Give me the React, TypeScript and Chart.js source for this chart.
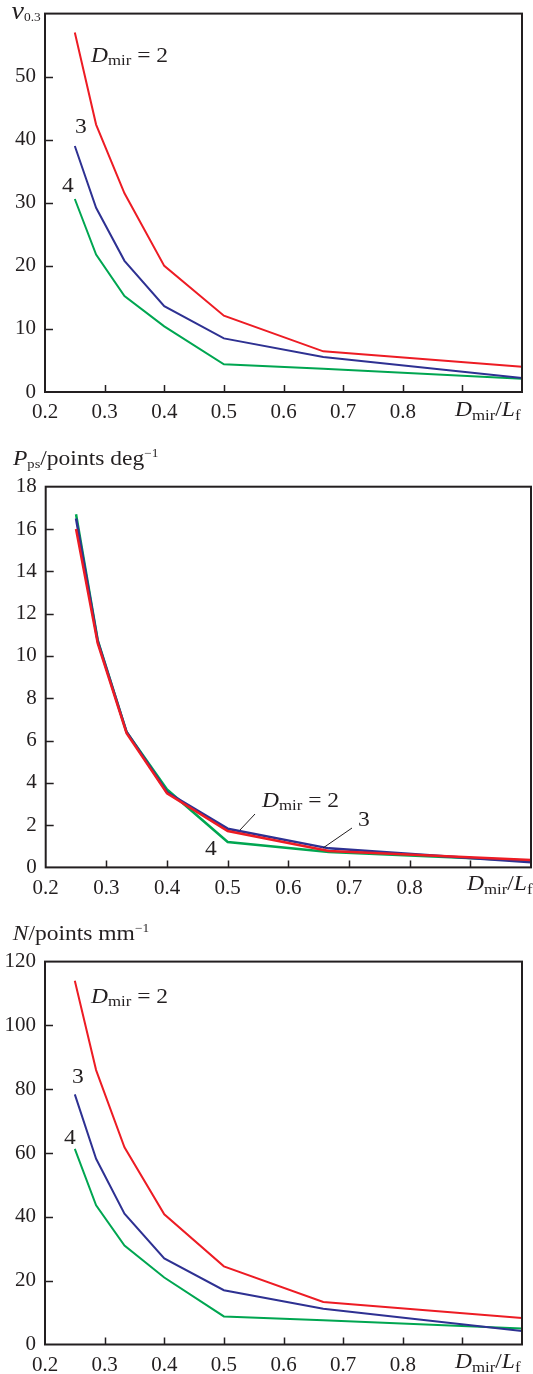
import React, { useEffect, useRef } from 'react';
import { Chart, registerables } from 'chart.js';

Chart.register(...registerables);

// Mirror-to-focal-length ratio D_mir / L_f
const ratioX = [0.25, 0.2857, 0.3333, 0.4, 0.5, 0.6667, 1.0];
const xTickValues = [0.2, 0.3, 0.4, 0.5, 0.6, 0.7, 0.8, 0.9, 1.0];
const xTickLabels = ['0.2', '0.3', '0.4', '0.5', '0.6', '0.7', '0.8', '', ''];

// v_0.3 for D_mir = 2, 3, 4
const vDmir2 = [57, 42.4, 31.5, 20, 12.1, 6.45, 4.0];
const vDmir3 = [39, 29.2, 20.8, 13.6, 8.5, 5.55, 2.2];
const vDmir4 = [30.6, 21.8, 15.2, 10.4, 4.4, 3.7, 2.1];
const vTickValues = [0, 10, 20, 30, 40, 50, 60];
const vTickLabels = ['0', '10', '20', '30', '40', '50', ''];

// P_ps (points per degree) for D_mir = 2, 3, 4
const pDmir2 = [16.0, 10.6, 6.35, 3.5, 1.72, 0.78, 0.35];
const pDmir3 = [16.5, 10.7, 6.4, 3.55, 1.83, 0.9, 0.24];
const pDmir4 = [16.7, 10.75, 6.4, 3.68, 1.2, 0.73, 0.32];
const pTickValues = [0, 2, 4, 6, 8, 10, 12, 14, 16, 18];
const pTickLabels = ['0', '2', '4', '6', '8', '10', '12', '14', '16', '18'];

// N (points per mm) for D_mir = 2, 3, 4
const nDmir2 = [114, 86, 61.8, 40.8, 24.5, 13.3, 8.3];
const nDmir3 = [78.4, 58.2, 41, 27, 17, 11.2, 4.2];
const nDmir4 = [61.3, 43.6, 31, 21, 8.8, 7.6, 5.0];
const nTickValues = [0, 20, 40, 60, 80, 100, 120];
const nTickLabels = ['0', '20', '40', '60', '80', '100', '120'];

const RED = '#ed1c24';
const BLUE = '#2e3192';
const GREEN = '#00a651';
const INK = '#231f20';
const FONT = '"Liberation Serif", "Times New Roman", serif';
const STRETCH = 1.12;

type Part = { t: string; size: number; italic?: boolean; dy?: number };
type RichText = { x: number; y: number; parts: Part[] };
type Leader = [number, number, number, number];

function drawRich(ctx: CanvasRenderingContext2D, item: RichText) {
  ctx.save();
  ctx.translate(item.x, item.y);
  ctx.scale(STRETCH, 1);
  ctx.fillStyle = INK;
  ctx.textAlign = 'left';
  ctx.textBaseline = 'alphabetic';
  let cx = 0;
  for (const p of item.parts) {
    ctx.font = `${p.italic ? 'italic ' : ''}${p.size}px ${FONT}`;
    ctx.fillText(p.t, cx, p.dy || 0);
    cx += ctx.measureText(p.t).width;
  }
  ctx.restore();
}

const dmirLabel = (x: number, y: number): RichText => ({
  x,
  y,
  parts: [
    { t: 'D', size: 21, italic: true },
    { t: 'mir', size: 15, dy: 3 },
    { t: ' = 2', size: 21 },
  ],
});

const axisTitle = (x: number, y: number): RichText => ({
  x,
  y,
  parts: [
    { t: 'D', size: 21, italic: true },
    { t: 'mir', size: 15, dy: 4 },
    { t: '/', size: 21 },
    { t: 'L', size: 21, italic: true },
    { t: 'f', size: 15, dy: 4 },
  ],
});

const plain = (x: number, y: number, t: string): RichText => ({ x, y, parts: [{ t, size: 21 }] });

type PanelProps = {
  top: number;
  height: number;
  area: { left: number; top: number; right: number; bottom: number };
  series: number[][];
  yMax: number;
  yTicks: number[];
  yLabels: string[];
  lineWidth: number;
  texts: RichText[];
  leaders: Leader[];
};

function Panel(props: PanelProps) {
  const ref = useRef<HTMLCanvasElement>(null);
  const width = 533;

  useEffect(() => {
    const canvas = ref.current;
    if (!canvas) return;
    const { area, height } = props;
    const colors = [RED, BLUE, GREEN];

    const framePlugin = {
      id: 'frameAndNotes',
      afterDraw(chart: Chart) {
        const ctx = chart.ctx;
        const ca = chart.chartArea;
        const xs = chart.scales.x;
        const ys = chart.scales.y;
        ctx.save();
        ctx.strokeStyle = INK;
        ctx.lineWidth = 2;
        ctx.strokeRect(ca.left, ca.top, ca.right - ca.left, ca.bottom - ca.top);
        ctx.lineWidth = 1.5;
        ctx.beginPath();
        for (const v of xTickValues.slice(1, -1)) {
          const px = Math.round(xs.getPixelForValue(v)) + 0.5;
          ctx.moveTo(px, ca.bottom);
          ctx.lineTo(px, ca.bottom - 7);
        }
        for (const v of props.yTicks.slice(1, -1)) {
          const py = Math.round(ys.getPixelForValue(v)) + 0.5;
          ctx.moveTo(ca.left, py);
          ctx.lineTo(ca.left + 8, py);
        }
        ctx.stroke();
        ctx.lineWidth = 1;
        ctx.beginPath();
        for (const [x1, y1, x2, y2] of props.leaders) {
          ctx.moveTo(x1, y1);
          ctx.lineTo(x2, y2);
        }
        ctx.stroke();
        ctx.restore();
        for (const t of props.texts) drawRich(ctx, t);
      },
    };

    const chart = new Chart(canvas, {
      type: 'line',
      data: {
        datasets: props.series.map((vals, i) => ({
          data: ratioX.map((x, j) => ({ x, y: vals[j] })),
          borderColor: colors[i],
          borderWidth: props.lineWidth,
          pointRadius: 0,
          tension: 0,
          fill: false,
        })),
      },
      options: {
        animation: false,
        responsive: false,
        devicePixelRatio: 1,
        events: [],
        layout: {
          padding: { left: 0, top: area.top, right: width - area.right, bottom: 0 },
        },
        plugins: { legend: { display: false }, tooltip: { enabled: false }, title: { display: false } },
        scales: {
          x: {
            type: 'linear',
            min: 0.2,
            max: 1.0,
            grid: { display: false },
            border: { display: false },
            afterBuildTicks: (s: any) => {
              s.ticks = xTickValues.map((value) => ({ value }));
            },
            afterFit: (s: any) => {
              s.height = height - area.bottom;
            },
            ticks: {
              autoSkip: false,
              maxRotation: 0,
              padding: 0,
              color: INK,
              font: { family: FONT, size: 21 },
              callback: (_v: any, i: number) => xTickLabels[i],
            },
          },
          y: {
            type: 'linear',
            min: 0,
            max: props.yMax,
            grid: { display: false },
            border: { display: false },
            afterBuildTicks: (s: any) => {
              s.ticks = props.yTicks.map((value) => ({ value }));
            },
            afterFit: (s: any) => {
              s.width = area.left;
            },
            ticks: {
              autoSkip: false,
              padding: 1,
              color: INK,
              font: { family: FONT, size: 21 },
              callback: (_v: any, i: number) => props.yLabels[i],
            },
          },
        },
      },
      plugins: [framePlugin],
    } as any);

    return () => chart.destroy();
  }, []);

  return (
    <canvas
      ref={ref}
      width={width}
      height={props.height}
      style={{ position: 'absolute', left: 0, top: props.top, width, height: props.height }}
    />
  );
}

export default function App() {
  return (
    <div style={{ position: 'absolute', left: 0, top: 0, width: 533, height: 1374, background: '#fff', overflow: 'hidden' }}>
      <Panel
        top={0}
        height={440}
        area={{ left: 45, top: 11, right: 522, bottom: 392 }}
        series={[vDmir2, vDmir3, vDmir4]}
        yMax={60}
        yTicks={vTickValues}
        yLabels={vTickLabels}
        lineWidth={2}
        texts={[
          {
            x: 11.5,
            y: 18.5,
            parts: [
              { t: 'v', size: 25, italic: true },
              { t: '0.3', size: 12, dy: 2.5 },
            ],
          },
          dmirLabel(91, 61.7),
          plain(75, 133.3, '3'),
          plain(62, 192, '4'),
          axisTitle(455, 416),
        ]}
        leaders={[]}
      />
      <Panel
        top={425}
        height={475}
        area={{ left: 45.7, top: 61.7, right: 531, bottom: 442.4 }}
        series={[pDmir2, pDmir3, pDmir4]}
        yMax={18}
        yTicks={pTickValues}
        yLabels={pTickLabels}
        lineWidth={2.5}
        texts={[
          {
            x: 13,
            y: 40,
            parts: [
              { t: 'P', size: 21, italic: true },
              { t: 'ps', size: 13, dy: 3 },
              { t: '/points deg', size: 21 },
              { t: '\u22121', size: 12, dy: -8 },
            ],
          },
          dmirLabel(262, 381.7),
          plain(358, 401, '3'),
          plain(205, 430, '4'),
          axisTitle(467, 465),
        ]}
        leaders={[
          [255, 389, 240, 405],
          [352, 403, 323, 423],
        ]}
      />
      <Panel
        top={895}
        height={479}
        area={{ left: 45, top: 66.6, right: 522, bottom: 449.5 }}
        series={[nDmir2, nDmir3, nDmir4]}
        yMax={120}
        yTicks={nTickValues}
        yLabels={nTickLabels}
        lineWidth={2}
        texts={[
          {
            x: 12.7,
            y: 45,
            parts: [
              { t: 'N', size: 21, italic: true },
              { t: '/points mm', size: 21 },
              { t: '\u22121', size: 12, dy: -8 },
            ],
          },
          dmirLabel(91, 108.3),
          plain(72, 188.3, '3'),
          plain(64, 249.3, '4'),
          axisTitle(455, 473),
        ]}
        leaders={[]}
      />
    </div>
  );
}
